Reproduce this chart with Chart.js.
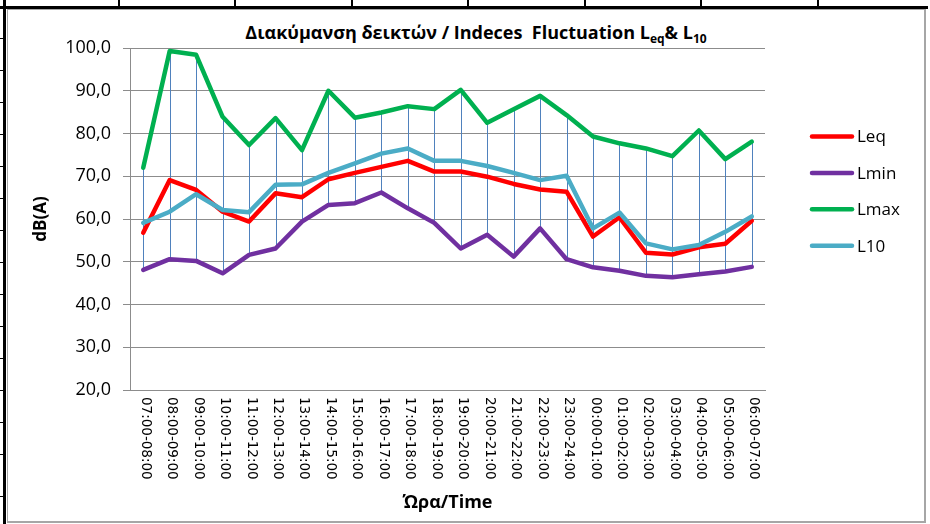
<!DOCTYPE html>
<html>
<head>
<meta charset="utf-8">
<script src="https://cdn.jsdelivr.net/npm/chart.js@4.4.1/dist/chart.umd.min.js"></script>
<style>
html,body{margin:0;padding:0;background:#fff;width:930px;height:524px;overflow:hidden;}
.blk{position:absolute;background:#000;}
#box{position:absolute;left:7px;top:9px;width:916px;height:511px;border-left:1px solid #a6a6a6;border-top:1px solid #a6a6a6;border-right:2px solid #a6a6a6;border-bottom:2px solid #a6a6a6;}
#chart{position:absolute;left:0;top:0;}
#title{position:absolute;left:176px;top:21px;width:600px;text-align:center;font-family:'Open Sans',sans-serif;font-weight:bold;font-size:18px;line-height:22px;color:#000;white-space:nowrap;}
#title span.s{font-size:12px;position:relative;top:4px;}
</style>
</head>
<body>
<div id="box"></div>
<div class="blk" style="left:0;top:6px;width:928px;height:3px;"></div>
<div class="blk" style="left:3px;top:0;width:3px;height:524px;"></div>
<div id="vlines"></div>
<div id="title">Διακύμανση δεικτών / Indeces&nbsp; Fluctuation L<span class="s">eq</span>&amp; L<span class="s">10</span></div>
<canvas id="chart" width="930" height="524"></canvas>
<script>
// ---- data ----
const hours = ["07:00-08:00","08:00-09:00","09:00-10:00","10:00-11:00","11:00-12:00","12:00-13:00",
  "13:00-14:00","14:00-15:00","15:00-16:00","16:00-17:00","17:00-18:00","18:00-19:00",
  "19:00-20:00","20:00-21:00","21:00-22:00","22:00-23:00","23:00-24:00","00:00-01:00",
  "01:00-02:00","02:00-03:00","03:00-04:00","04:00-05:00","05:00-06:00","06:00-07:00"];
const leq  = [56.8,69.1,66.8,61.7,59.4,66.0,65.1,69.3,70.8,72.2,73.6,71.1,71.1,69.9,68.2,66.9,66.4,55.9,60.4,52.1,51.7,53.4,54.2,59.6];
const lmin = [48.1,50.6,50.2,47.3,51.6,53.1,59.4,63.3,63.7,66.2,62.5,59.1,53.1,56.3,51.2,57.8,50.6,48.7,47.9,46.7,46.4,47.1,47.7,48.8];
const lmax = [72.0,99.3,98.4,83.9,77.3,83.6,76.1,90.0,83.7,84.9,86.4,85.7,90.2,82.5,85.7,88.8,84.3,79.3,77.7,76.5,74.7,80.7,74.0,78.1];
const l10  = [59.1,61.7,65.8,62.1,61.6,68.0,68.1,70.8,73.0,75.3,76.5,73.6,73.6,72.4,70.8,69.1,70.1,57.8,61.5,54.3,52.9,53.9,57.0,60.6];
const seriesNames = ["Leq","Lmin","Lmax","L10"];
const yTickLabels = ["20,0","30,0","40,0","50,0","60,0","70,0","80,0","90,0","100,0"];
const yAxisTitle = "dB(A)";
const xAxisTitle = "Ώρα/Time";

// decorative table edges behind the chart frame
(function(){
  const v = document.getElementById('vlines');
  [118,234,351,467,584,700,817].forEach(x=>{
    const d=document.createElement('div'); d.className='blk';
    d.style.cssText='left:'+x+'px;top:0;width:2px;height:7px;'; v.appendChild(d);
  });
  [38,70,102,134,166,198,230,262,294,326,358,390,422,454,496].forEach(y=>{
    const d=document.createElement('div'); d.className='blk';
    d.style.cssText='left:0;top:'+y+'px;width:4px;height:1px;'; v.appendChild(d);
  });
})();

const dropLines = {
  id:'dropLines',
  beforeDatasetsDraw(chart){
    const ctx = chart.ctx;
    const metas = chart.data.datasets.map((d,k)=>chart.getDatasetMeta(k));
    ctx.save();
    ctx.strokeStyle = '#4F81BD';
    ctx.lineWidth = 1;
    for (let i=0;i<chart.data.labels.length;i++){
      let top=Infinity, bot=-Infinity, x=0;
      metas.forEach(m=>{const p=m.data[i]; x=p.x; top=Math.min(top,p.y); bot=Math.max(bot,p.y);});
      ctx.beginPath();
      ctx.moveTo(Math.round(x)+0.5, top);
      ctx.lineTo(Math.round(x)+0.5, bot);
      ctx.stroke();
    }
    ctx.restore();
  }
};

const xLabels = {
  id:'xLabels',
  afterDraw(chart){
    const xs = chart.scales.x, ctx = chart.ctx;
    ctx.save();
    ctx.font = "13.5px 'DejaVu Sans'";
    ctx.fillStyle = '#000';
    ctx.textAlign = 'left';
    ctx.textBaseline = 'middle';
    chart.data.labels.forEach((lab,i)=>{
      const x = xs.getPixelForValue(i);
      ctx.save();
      ctx.translate(x+2, xs.top+7);
      ctx.rotate(Math.PI/2);
      ctx.fillText(lab,0,0);
      ctx.restore();
    });
    ctx.restore();
  }
};

const legendPlugin = {
  id:'sideLegend',
  afterDraw(chart){
    const ctx = chart.ctx;
    ctx.save();
    ctx.font = "17px 'Open Sans'";
    ctx.textAlign = 'left';
    ctx.textBaseline = 'middle';
    chart.data.datasets.forEach((ds,k)=>{
      const y = 136.5 + k*36.4;
      ctx.strokeStyle = ds.borderColor;
      ctx.lineWidth = 4.5;
      ctx.lineCap = 'round';
      ctx.beginPath(); ctx.moveTo(812,y); ctx.lineTo(852,y); ctx.stroke();
      ctx.fillStyle = '#000';
      ctx.fillText(ds.label, 857, y+1);
    });
    ctx.restore();
  }
};

const lineDs = (label, data, color, order) => ({
  label, data, borderColor: color, backgroundColor: color, borderWidth: 4.5,
  pointRadius: 0, tension: 0, borderJoinStyle: 'round', borderCapStyle: 'round', fill: false, order
});

new Chart(document.getElementById('chart'), {
  type: 'line',
  data: {
    labels: hours,
    datasets: [
      lineDs(seriesNames[0], leq,  '#FF0000', 3),
      lineDs(seriesNames[1], lmin, '#7030A0', 2),
      lineDs(seriesNames[2], lmax, '#00B050', 1),
      lineDs(seriesNames[3], l10,  '#4BACC6', 0)
    ]
  },
  options: {
    responsive: false,
    animation: false,
    layout: { padding: { top: 48, right: 165, left: 0, bottom: 0 } },
    plugins: { legend: { display: false }, title: { display: false }, tooltip: { enabled: false } },
    scales: {
      x: {
        type: 'category', offset: true,
        grid: { display: false, drawTicks: false },
        border: { display: true, color: '#8c8c8c', width: 1 },
        ticks: { display: false },
        title: { display: true, text: xAxisTitle, color: '#000',
                 font: { family: 'Open Sans', size: 18, weight: 'bold' }, padding: { top: 0, bottom: 10 } },
        afterFit(s){ s.height = 134; }
      },
      y: {
        min: 20, max: 100,
        ticks: { stepSize: 10, padding: 12, color: '#000', font: { family: 'Open Sans', size: 18 },
                 callback: (v, i) => yTickLabels[i] },
        grid: { color: '#8c8c8c', lineWidth: 1, tickLength: 7, drawTicks: true },
        border: { display: true, color: '#8c8c8c', width: 1 },
        title: { display: true, text: yAxisTitle, color: '#000',
                 font: { family: 'Open Sans', size: 17, weight: 'bold' }, padding: { top: 31, bottom: 0 } },
        afterFit(s){ s.width = 130; }
      }
    }
  },
  plugins: [dropLines, xLabels, legendPlugin]
});
</script>
</body>
</html>
